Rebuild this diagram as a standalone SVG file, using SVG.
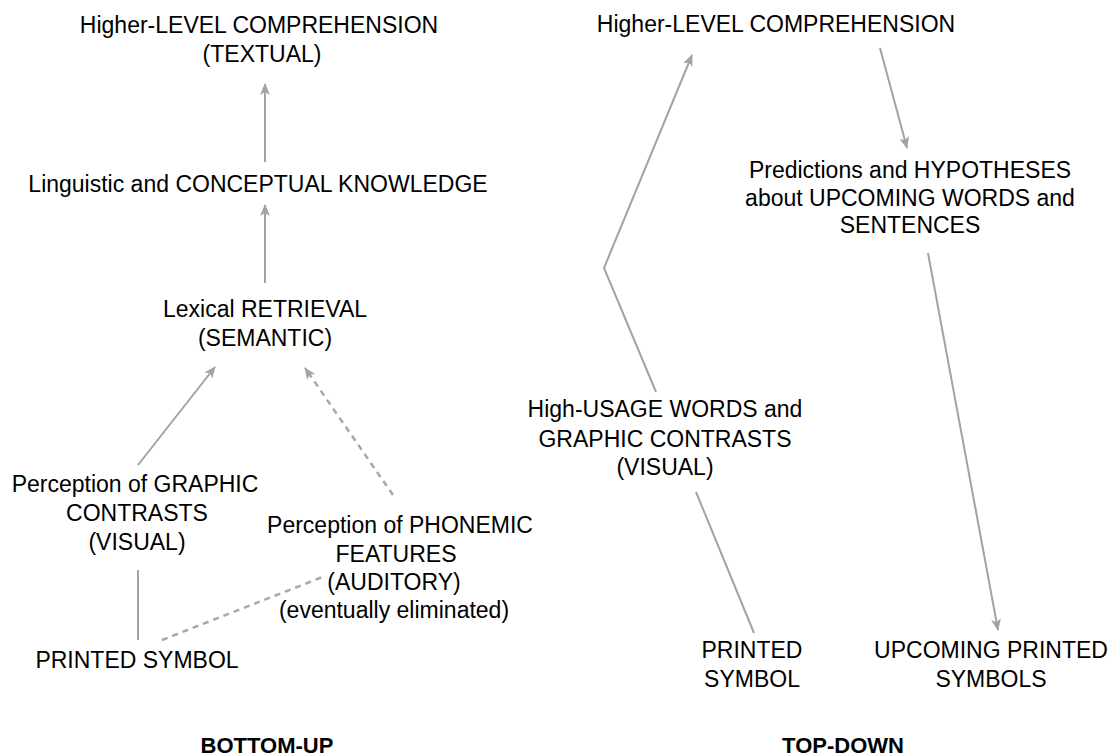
<svg xmlns="http://www.w3.org/2000/svg" width="1115" height="756" viewBox="0 0 1115 756">
  <defs>
    <style>
      .lbl { font-family: "Liberation Sans", Arial, Helvetica, sans-serif; font-size: 23px; fill: #000; text-anchor: middle; }
      .title { font-family: "Liberation Sans", Arial, Helvetica, sans-serif; font-size: 22px; font-weight: bold; fill: #000; text-anchor: middle; }
      .edge { fill: none; stroke: #a3a3a3; stroke-width: 2; }
      .dash { fill: none; stroke: #a8a8a8; stroke-width: 2.5; stroke-dasharray: 6 5; }
    </style>
    <marker id="arrow" viewBox="0 0 12 10" refX="11" refY="5" markerWidth="12" markerHeight="10" markerUnits="userSpaceOnUse" orient="auto">
      <path d="M0,0 L12,5 L0,10 L3,5 z" fill="#a3a3a3"/>
    </marker>
  </defs>

  <rect width="1115" height="756" fill="#ffffff"/>

  <!-- connectors -->
  <g id="connectors">
    <!-- bottom-up -->
    <line class="edge" x1="265" y1="162" x2="265" y2="84" marker-end="url(#arrow)"/>
    <line class="edge" x1="265" y1="283" x2="265" y2="205" marker-end="url(#arrow)"/>
    <line class="edge" x1="138" y1="465" x2="215" y2="367" marker-end="url(#arrow)"/>
    <line class="dash" x1="393" y1="495" x2="305" y2="368" marker-end="url(#arrow)"/>
    <line class="edge" x1="138" y1="570" x2="138" y2="640"/>
    <line class="dash" x1="162" y1="640" x2="325" y2="576"/>
    <!-- top-down -->
    <polyline class="edge" points="656,392 604,268 692,55" marker-end="url(#arrow)"/>
    <line class="edge" x1="880" y1="48" x2="907" y2="148" marker-end="url(#arrow)"/>
    <line class="edge" x1="928" y1="253" x2="998" y2="630" marker-end="url(#arrow)"/>
    <line class="edge" x1="696" y1="492" x2="754" y2="633"/>
  </g>

  <!-- bottom-up nodes -->
  <g id="bu-comprehension">
    <text class="lbl" x="259" y="33">Higher-LEVEL COMPREHENSION</text>
    <text class="lbl" x="262" y="62">(TEXTUAL)</text>
  </g>
  <g id="bu-knowledge">
    <text class="lbl" x="258" y="192">Linguistic and CONCEPTUAL KNOWLEDGE</text>
  </g>
  <g id="bu-lexical">
    <text class="lbl" x="265" y="317">Lexical RETRIEVAL</text>
    <text class="lbl" x="265" y="346">(SEMANTIC)</text>
  </g>
  <g id="bu-graphic">
    <text class="lbl" x="135" y="492">Perception of GRAPHIC</text>
    <text class="lbl" x="137" y="521">CONTRASTS</text>
    <text class="lbl" x="137" y="550">(VISUAL)</text>
  </g>
  <g id="bu-phonemic">
    <text class="lbl" x="400" y="533">Perception of PHONEMIC</text>
    <text class="lbl" x="396" y="562">FEATURES</text>
    <text class="lbl" x="394" y="590">(AUDITORY)</text>
    <text class="lbl" x="394" y="618">(eventually eliminated)</text>
  </g>
  <g id="bu-printed">
    <text class="lbl" x="137" y="668">PRINTED SYMBOL</text>
  </g>
  <g id="bu-caption">
    <text class="title" x="267" y="753">BOTTOM-UP</text>
  </g>

  <!-- top-down nodes -->
  <g id="td-comprehension">
    <text class="lbl" x="776" y="32">Higher-LEVEL COMPREHENSION</text>
  </g>
  <g id="td-predictions">
    <text class="lbl" x="910" y="178">Predictions and HYPOTHESES</text>
    <text class="lbl" x="910" y="206">about UPCOMING WORDS and</text>
    <text class="lbl" x="910" y="233">SENTENCES</text>
  </g>
  <g id="td-highusage">
    <text class="lbl" x="665" y="417">High-USAGE WORDS and</text>
    <text class="lbl" x="665" y="447">GRAPHIC CONTRASTS</text>
    <text class="lbl" x="665" y="475">(VISUAL)</text>
  </g>
  <g id="td-printed">
    <text class="lbl" x="752" y="658">PRINTED</text>
    <text class="lbl" x="752" y="687">SYMBOL</text>
  </g>
  <g id="td-upcoming">
    <text class="lbl" x="991" y="658">UPCOMING PRINTED</text>
    <text class="lbl" x="991" y="687">SYMBOLS</text>
  </g>
  <g id="td-caption">
    <text class="title" x="843" y="753">TOP-DOWN</text>
  </g>
</svg>
